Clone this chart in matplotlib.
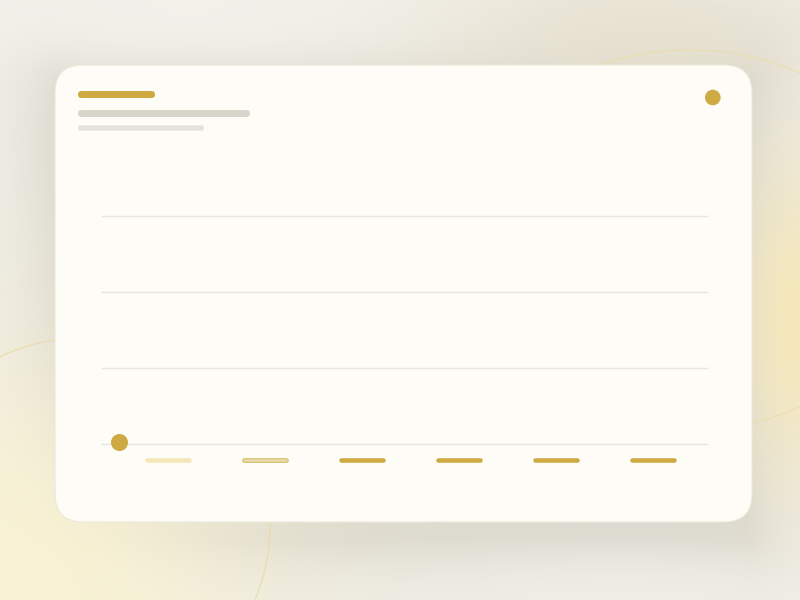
import numpy as np
import matplotlib.pyplot as plt
from matplotlib.patches import FancyBboxPatch, Ellipse, Circle

# 로딩 상태(스켈레톤) 차트 - 값은 자리표시만 있음
categories = ["c1", "c2", "c3", "c4", "c5", "c6"]
grid_values = [0, 1, 2, 3]
series_values = [0.0]
label_styles = ["pale", "outline", "full", "full", "full", "full"]

GOLD = "#cfaa42"
PALE = "#f3e7b8"
CARD = "#fdfcf6"
GRID = "#e9e7dd"

W, H = 800, 600

# 배경 그라데이션
yy, xx = np.mgrid[0:H, 0:W].astype(float)
img = np.zeros((H, W, 3))
img[:] = np.array([245, 243, 237])

# 카드 그림자 (아래쪽으로 살짝 밀림)
cx0, cx1, cy0, cy1 = 60, 747, 80, 540
dx = np.maximum(np.maximum(cx0 - xx, xx - cx1), 0)
dy = np.maximum(np.maximum(cy0 - yy, yy - cy1), 0)
d = np.hypot(dx, dy)
shade = np.exp(-d / 55.0) * 0.30
img = img * (1 - shade[..., None]) + np.array([160, 155, 135]) * shade[..., None]


def blob(img, x, y, sx, sy, color, w):
    g = w * np.exp(-(((xx - x) / sx) ** 2 + ((yy - y) / sy) ** 2) / 2)
    return img * (1 - g[..., None]) + np.array(color) * g[..., None]


img = blob(img, 10, 590, 180, 170, (250, 243, 212), 1.0)
img = blob(img, 800, 320, 45, 110, (246, 232, 185), 0.95)
img = blob(img, 620, 30, 150, 50, (226, 218, 192), 0.55)
img = blob(img, 200, 20, 200, 40, (247, 245, 239), 0.6)
img = blob(img, 620, 600, 140, 40, (242, 240, 234), 0.6)

fig = plt.figure(figsize=(8, 6), dpi=100)
bg = fig.add_axes([0, 0, 1, 1])
bg.imshow(img.clip(0, 255).astype(np.uint8), extent=(0, W, H, 0), interpolation="bilinear")
bg.set_xlim(0, W)
bg.set_ylim(H, 0)
bg.axis("off")

# 장식용 원 선
bg.add_patch(Circle((82, 526), 188, fill=False, ec="#ead9a6", lw=1.0, alpha=0.75))
bg.add_patch(Ellipse((690, 240), 460, 380, fill=False, ec="#eddcaa", lw=1.0, alpha=0.7))

# 카드
bg.add_patch(FancyBboxPatch((55, 65), 697, 457, boxstyle="round,pad=0,rounding_size=28",
                            fc=CARD, ec="#ebe8dc", lw=0.8, zorder=3))


def pill(ax, x0, x1, yc, h, color, z=4):
    ax.add_patch(FancyBboxPatch((x0, yc - h / 2), x1 - x0, h,
                                boxstyle="round,pad=0,rounding_size=%f" % (h / 2),
                                fc=color, ec="none", zorder=z))


# 제목 자리표시
pill(bg, 78, 155, 94.5, 7, GOLD)
pill(bg, 78, 250, 113.5, 7, "#d8d6cb")
pill(bg, 78, 204, 128, 5.5, "#e4e2d9")
bg.add_patch(Circle((712.8, 97.5), 7.8, fc=GOLD, ec="none", zorder=4))

# 플롯 영역
ax = fig.add_axes([101 / W, 1 - 444 / H, 607 / W, 228 / H])
ax.patch.set_alpha(0)
x = np.arange(len(categories))
xmin, xmax = -0.6907, -0.6907 + 607 / 97
ax.set_xlim(xmin, xmax)
ax.set_ylim(0, 3)
ax.hlines(grid_values, xmin, xmax, color=GRID, lw=1, zorder=1, clip_on=False)

# x축 레이블 자리표시
half = 0.213
ly = -16 / 76
for xi, st in zip(x, label_styles):
    if st == "pale":
        ax.plot([xi - half, xi + half], [ly, ly], color=PALE, lw=3.3,
                solid_capstyle="round", clip_on=False)
    elif st == "outline":
        ax.plot([xi - half, xi + half], [ly, ly], color="#d4b658", lw=3.3,
                solid_capstyle="round", clip_on=False)
        ax.plot([xi - half, xi + half], [ly + 0.004, ly + 0.004], color="#e7ddb4", lw=1.8,
                solid_capstyle="round", clip_on=False)
    else:
        ax.plot([xi - half, xi + half], [ly, ly], color=GOLD, lw=3.3,
                solid_capstyle="round", clip_on=False)

# 값 하나 (시작점)
ax.scatter(x[:len(series_values)] - 0.5, np.array(series_values) + 0.025, s=150,
           color=GOLD, zorder=5, clip_on=False, linewidths=0)
ax.axis("off")

fig.savefig("out.png", dpi=100)
